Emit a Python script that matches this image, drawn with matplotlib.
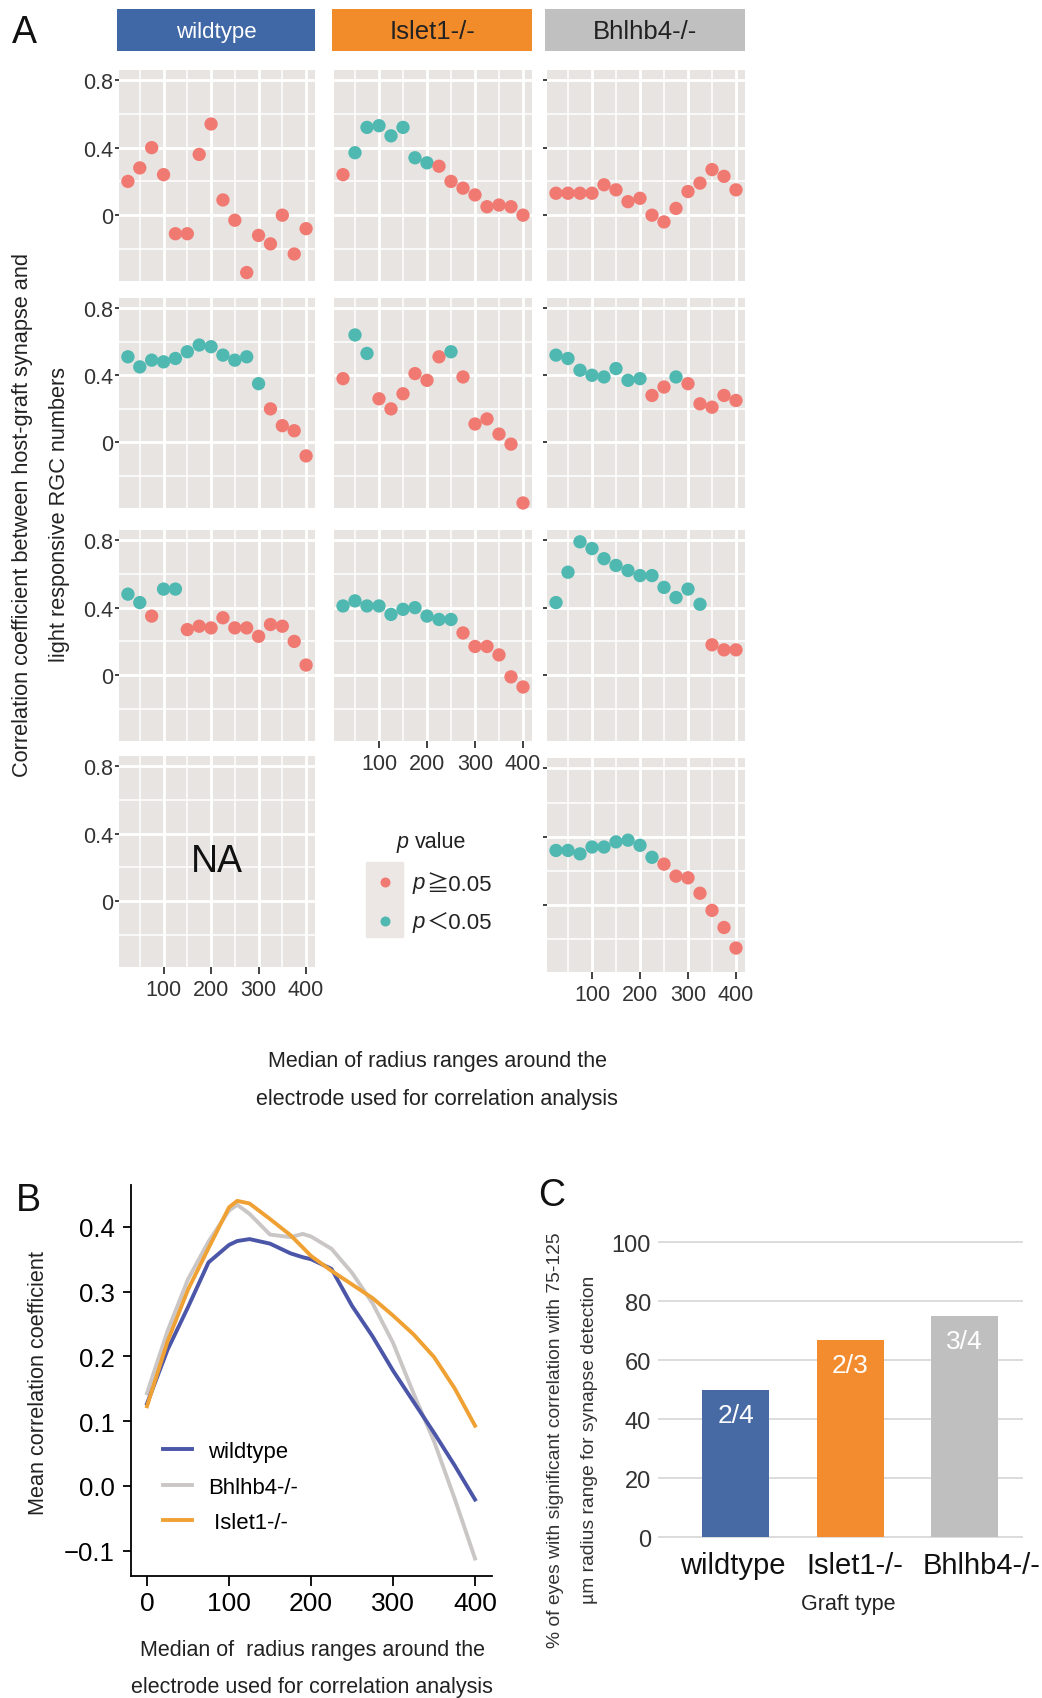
import matplotlib
matplotlib.use("Agg")
import matplotlib.pyplot as plt
import matplotlib.transforms as mtransforms
from matplotlib.lines import Line2D
from matplotlib.patches import Rectangle
from matplotlib.font_manager import FontProperties

plt.rcParams['font.family'] = ['Liberation Sans', 'DejaVu Sans', 'Noto Sans CJK JP']

W, H = 1042, 1699

# ---------------- A: correlation per eye vs median radius (um)
radius = [25, 50, 75, 100, 125, 150, 175, 200, 225, 250, 275, 300, 325, 350, 375, 400]

wt_eye1 = [0.20, 0.28, 0.40, 0.24, -0.11, -0.11, 0.36, 0.54, 0.09, -0.03, -0.34, -0.12, -0.17, 0.00, -0.23, -0.08]
wt_sig1 = [0, 0, 0, 0, 0, 0, 0, 0, 0, 0, 0, 0, 0, 0, 0, 0]
wt_eye2 = [0.51, 0.45, 0.49, 0.48, 0.50, 0.54, 0.58, 0.57, 0.52, 0.49, 0.51, 0.35, 0.20, 0.10, 0.07, -0.08]
wt_sig2 = [1, 1, 1, 1, 1, 1, 1, 1, 1, 1, 1, 1, 0, 0, 0, 0]
wt_eye3 = [0.48, 0.43, 0.35, 0.51, 0.51, 0.27, 0.29, 0.28, 0.34, 0.28, 0.28, 0.23, 0.30, 0.29, 0.20, 0.06]
wt_sig3 = [1, 1, 0, 1, 1, 0, 0, 0, 0, 0, 0, 0, 0, 0, 0, 0]

isl_eye1 = [0.24, 0.37, 0.52, 0.53, 0.47, 0.52, 0.34, 0.31, 0.29, 0.20, 0.16, 0.12, 0.05, 0.06, 0.05, 0.00]
isl_sig1 = [0, 1, 1, 1, 1, 1, 1, 1, 0, 0, 0, 0, 0, 0, 0, 0]
isl_eye2 = [0.38, 0.64, 0.53, 0.26, 0.20, 0.29, 0.41, 0.37, 0.51, 0.54, 0.39, 0.11, 0.14, 0.05, -0.01, -0.36]
isl_sig2 = [0, 1, 1, 0, 0, 0, 0, 0, 0, 1, 0, 0, 0, 0, 0, 0]
isl_eye3 = [0.41, 0.44, 0.41, 0.41, 0.36, 0.39, 0.40, 0.35, 0.33, 0.33, 0.25, 0.17, 0.17, 0.12, -0.01, -0.07]
isl_sig3 = [1, 1, 1, 1, 1, 1, 1, 1, 1, 1, 0, 0, 0, 0, 0, 0]

bhl_eye1 = [0.13, 0.13, 0.13, 0.13, 0.18, 0.15, 0.08, 0.10, 0.00, -0.04, 0.04, 0.14, 0.19, 0.27, 0.23, 0.15]
bhl_sig1 = [0, 0, 0, 0, 0, 0, 0, 0, 0, 0, 0, 0, 0, 0, 0, 0]
bhl_eye2 = [0.52, 0.50, 0.43, 0.40, 0.39, 0.44, 0.37, 0.38, 0.28, 0.33, 0.39, 0.35, 0.23, 0.21, 0.28, 0.25]
bhl_sig2 = [1, 1, 1, 1, 1, 1, 1, 1, 0, 0, 1, 0, 0, 0, 0, 0]
bhl_eye3 = [0.43, 0.61, 0.79, 0.75, 0.69, 0.65, 0.62, 0.59, 0.59, 0.52, 0.46, 0.51, 0.42, 0.18, 0.15, 0.15]
bhl_sig3 = [1, 1, 1, 1, 1, 1, 1, 1, 1, 1, 1, 1, 1, 0, 0, 0]
bhl_eye4 = [0.32, 0.32, 0.30, 0.34, 0.34, 0.37, 0.38, 0.35, 0.28, 0.24, 0.17, 0.16, 0.07, -0.03, -0.13, -0.25]
bhl_sig4 = [1, 1, 1, 1, 1, 1, 1, 1, 1, 0, 0, 0, 0, 0, 0, 0]

groups = ['wildtype', 'Islet1-/-', 'Bhlhb4-/-']

# ---------------- B: smoothed mean correlation
radius_b = [0, 25, 50, 75, 100, 110, 125, 150, 175, 190, 200, 225, 250, 275, 300, 325, 350, 375, 400]
mean_wt = [0.127, 0.210, 0.276, 0.345, 0.372, 0.378, 0.381, 0.374, 0.359, 0.353, 0.350, 0.335, 0.278, 0.231, 0.178, 0.130, 0.082, 0.032, -0.021]
mean_bhl = [0.143, 0.239, 0.319, 0.377, 0.425, 0.434, 0.420, 0.388, 0.384, 0.389, 0.385, 0.366, 0.329, 0.282, 0.221, 0.143, 0.069, -0.019, -0.112]
mean_isl = [0.123, 0.223, 0.303, 0.367, 0.430, 0.440, 0.436, 0.412, 0.387, 0.368, 0.355, 0.332, 0.311, 0.290, 0.263, 0.234, 0.199, 0.151, 0.093]

# ---------------- C: % eyes with significant correlation
pct_sig = [50, 66.7, 75]
frac_labels = ['2/4', '2/3', '3/4']

red = '#F07A72'
teal = '#4FB8B0'
panel_bg = '#E8E4E2'
strip_cols = ['#4168A6', '#F28C2B', '#C0C0C0']
line_cols = {'wildtype': '#4B56A8', 'Bhlhb4-/-': '#CAC6C5', 'Islet1-/-': '#F0A133'}
bar_cols = ['#476AA5', '#F28C2E', '#BFBFBF']

fig = plt.figure(figsize=(W / 100, H / 100), dpi=100)


def px_axes(x0, y0, x1, y1):
    return fig.add_axes([x0 / W, 1 - y1 / H, (x1 - x0) / W, (y1 - y0) / H])


def ftext(x, y, s, **kw):
    kw.setdefault('ha', 'center')
    kw.setdefault('va', 'center')
    return fig.text(x / W, 1 - y / H, s, **kw)


def facet(box, yvals=None, sig=None, ylab=False, xlab=False, ytick=False):
    ax = px_axes(*box)
    ax.set_facecolor(panel_bg)
    ax.set_xlim(6.25, 418.75)
    ax.set_ylim(-0.39, 0.86)
    ax.set_xticks([100, 200, 300, 400])
    ax.set_xticks([50, 150, 250, 350], minor=True)
    ax.set_yticks([0, 0.4, 0.8])
    ax.set_yticklabels(['0', '0.4', '0.8'])
    ax.set_yticks([-0.2, 0.2, 0.6], minor=True)
    ax.grid(which='major', color='white', lw=2.0)
    ax.grid(which='minor', color='white', lw=1.1)
    ax.set_axisbelow(True)
    for s in ax.spines.values():
        s.set_visible(False)
    ax.tick_params(which='minor', length=0)
    ax.tick_params(axis='x', which='major', length=5 if xlab else 0, width=1.3,
                   color='#333333', labelbottom=xlab, labelsize=15.5,
                   labelcolor='#333333', pad=4)
    ax.tick_params(axis='y', which='major', length=3 if (ylab or ytick) else 0,
                   width=1.3, color='#333333', labelleft=ylab, labelsize=15.5,
                   labelcolor='#333333', pad=1.5)
    if yvals is not None:
        cols = [teal if s else red for s in sig]
        ax.scatter(radius, yvals, c=cols, s=92, linewidths=0, zorder=3, clip_on=False)
    return ax


col_x = [(119, 315), (334, 532), (547, 745)]
row_y = [(71, 282), (299, 509), (531, 742), (757, 968)]

# strips
for (x0, x1), g, c in zip(col_x, groups, strip_cols):
    sa = px_axes(x0 - 2, 10, x1, 52)
    sa.set_facecolor(c)
    sa.set_xticks([])
    sa.set_yticks([])
    for s in sa.spines.values():
        s.set_visible(False)
    if g == 'wildtype':
        sa.text(0.5, 0.47, g, transform=sa.transAxes, ha='center', va='center',
                color='white', fontsize=16)
    else:
        sa.text(0.5, 0.47, g, transform=sa.transAxes, ha='center', va='center',
                color='#222222', fontsize=18.5)

wt_data = [(wt_eye1, wt_sig1), (wt_eye2, wt_sig2), (wt_eye3, wt_sig3)]
isl_data = [(isl_eye1, isl_sig1), (isl_eye2, isl_sig2), (isl_eye3, isl_sig3)]
bhl_data = [(bhl_eye1, bhl_sig1), (bhl_eye2, bhl_sig2), (bhl_eye3, bhl_sig3), (bhl_eye4, bhl_sig4)]

for r, (v, s) in enumerate(wt_data):
    facet((col_x[0][0], row_y[r][0], col_x[0][1], row_y[r][1]), v, s, ylab=True)
for r, (v, s) in enumerate(isl_data):
    facet((col_x[1][0], row_y[r][0], col_x[1][1], row_y[r][1]), v, s, xlab=(r == 2))
for r, (v, s) in enumerate(bhl_data):
    y0, y1 = row_y[r]
    if r == 3:
        y0, y1 = y0 + 2, y1 + 5
    facet((col_x[2][0], y0, col_x[2][1], y1), v, s, xlab=(r == 3), ytick=True)

na_ax = facet((col_x[0][0], row_y[3][0], col_x[0][1], row_y[3][1]), ylab=True, xlab=True)
na_ax.text(0.5, 0.5, 'NA', transform=na_ax.transAxes, ha='center', va='center',
           fontsize=27, color='#111111')

# p value legend
fig.add_artist(Rectangle((366 / W, 1 - 938 / H), 37 / W, 75 / H,
                         transform=fig.transFigure, color='#ECE6E4', zorder=0))
ftext(397, 848, 'p', ha='left', va='baseline', style='italic', fontsize=15.5, color='#222222')
ftext(415, 848, 'value', ha='left', va='baseline', fontsize=15.5, color='#222222')
fp = FontProperties(family=['Liberation Sans', 'Noto Sans CJK JP', 'DejaVu Sans'], size=16)
handles = [Line2D([], [], ls='', marker='o', ms=7.2, mfc=red, mec='none'),
           Line2D([], [], ls='', marker='o', ms=7.2, mfc=teal, mec='none')]
leg = fig.legend(handles, ['\u22670.05', '\uff1c0.05'], loc='upper left',
                 bbox_to_anchor=(366 / W, 1 - 875 / H), frameon=False, borderpad=0,
                 handlelength=37 / 22.2, handletextpad=1.05, labelspacing=0.8,
                 prop=fp, borderaxespad=0)
for t in leg.get_texts():
    t.set_color('#222222')

# A axis titles
ftext(24, 33, 'A', fontsize=27, color='#111111')
ftext(23, 515, 'Correlation coefficient between host-graft synapse and',
      rotation=90, fontsize=15.7, color='#222222')
ftext(60, 515, 'light responsive RGC numbers', rotation=90, fontsize=15.7, color='#222222')
ftext(437, 1062, 'Median of radius ranges around the', fontsize=15.5, color='#222222')
ftext(437, 1100, 'electrode used for correlation analysis', fontsize=15.5, color='#222222')

# ---------------- B
axB = px_axes(131, 1186, 492, 1577)
axB.plot(radius_b, mean_bhl, color=line_cols['Bhlhb4-/-'], lw=2.8, label='Bhlhb4-/-')
axB.plot(radius_b, mean_wt, color=line_cols['wildtype'], lw=2.8, label='wildtype')
axB.plot(radius_b, mean_isl, color=line_cols['Islet1-/-'], lw=2.8, label='Islet1-/-')
axB.set_xlim(-19.5, 420.7)
axB.set_ylim(-0.139, 0.4645)
axB.set_xticks([0, 100, 200, 300, 400])
axB.set_yticks([-0.1, 0.0, 0.1, 0.2, 0.3, 0.4])
axB.set_yticklabels(['\u22120.1', '0.0', '0.1', '0.2', '0.3', '0.4'])
for s in ['top', 'right']:
    axB.spines[s].set_visible(False)
for s in ['left', 'bottom']:
    axB.spines[s].set_linewidth(1.3)
axB.tick_params(axis='x', length=7, width=1.3, labelsize=19, pad=4)
axB.tick_params(axis='y', length=6, width=1.3, labelsize=18.5, pad=5.5)
hl = {l.get_label(): l for l in axB.get_lines()}
axB.legend([hl['wildtype'], hl['Bhlhb4-/-'], hl['Islet1-/-']],
           ['wildtype', 'Bhlhb4-/-', ' Islet1-/-'], loc='upper left',
           bbox_to_anchor=(163 / W, 1 - 1442 / H), bbox_transform=fig.transFigure,
           frameon=False, borderpad=0, borderaxespad=0, fontsize=15.9,
           handlelength=1.3, handletextpad=0.75, labelspacing=0.66)
ftext(28, 1201, 'B', fontsize=27, color='#111111')
ftext(39, 1383, 'Mean correlation coefficient', rotation=90, fontsize=15.6, color='#222222')
ftext(312, 1651, 'Median of  radius ranges around the', fontsize=15.5, color='#222222')
ftext(312, 1688, 'electrode used for correlation analysis', fontsize=15.5, color='#222222')

# ---------------- C
axC = px_axes(658, 1232, 1023, 1544)
xpos = list(range(len(groups)))
axC.bar(xpos, pct_sig, width=0.585, color=bar_cols, zorder=3)
for i, (v, lab) in enumerate(zip(pct_sig, frac_labels)):
    axC.text(i, v - 8.5, lab, ha='center', va='center', color='white', fontsize=19, zorder=4)
axC.set_xlim(-0.677, 2.51)
axC.set_ylim(-2.0, 103.8)
axC.set_yticks([0, 20, 40, 60, 80, 100])
axC.set_xticks(xpos)
axC.set_xticklabels(groups)
axC.grid(axis='y', color='#D9D9D9', lw=1.3, zorder=0)
axC.set_axisbelow(True)
for s in axC.spines.values():
    s.set_visible(False)
axC.tick_params(axis='y', length=0, labelsize=17, labelcolor='#333333', pad=5)
axC.tick_params(axis='x', length=0, labelsize=21, labelcolor='#111111', pad=5.5)
# category labels in the original sit a little off the bar centres
for lab, dx in zip(axC.get_xticklabels(), [-3, 5, 17]):
    lab.set_transform(lab.get_transform() +
                      mtransforms.ScaledTranslation(dx / 100, 0, fig.dpi_scale_trans))
ftext(552, 1196, 'C', fontsize=27, color='#111111')
ftext(848, 1605, 'Graft type', fontsize=15.5, color='#222222')
ftext(555, 1440, '% of eyes with significant correlation with 75-125',
      rotation=90, fontsize=13.9, color='#333333')
ftext(590, 1440, '\u00b5m radius range for synapse detection',
      rotation=90, fontsize=13.9, color='#333333')

# italic p in front of the legend labels
fig.canvas.draw()
for t in leg.get_texts():
    bb = t.get_window_extent()
    fig.text((bb.x0 - 1) / W, bb.y0 / H + 2 / H, 'p', ha='right', va='bottom',
             style='italic', fontsize=16, color='#222222')

fig.savefig('out.png', dpi=100)
